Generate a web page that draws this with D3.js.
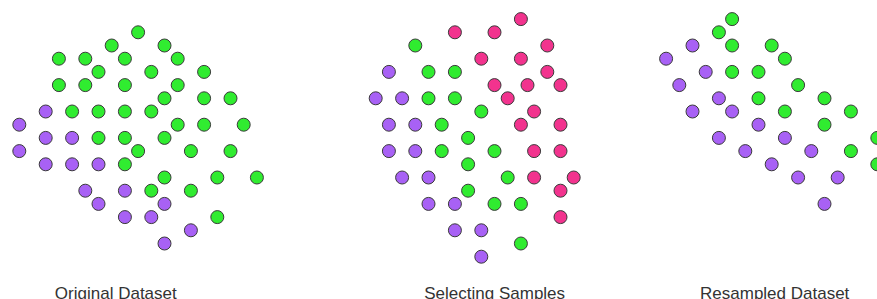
<html lang="en">
	<head>
		<meta charset="utf-8">
		<title>Undersampling</title>
		<script src="https://d3js.org/d3.v7.min.js"></script>
		<style type="text/css">
			body {
				margin: 0;
				background-color: white;
			}
		</style>
	</head>
	<body>
		<script type="text/javascript">

			//Points on a grid, [column, row]
			//Original dataset
			var originalMajority = [
				[9,0], [7,1], [11,1], [3,2], [5,2], [8,2], [12,2], [6,3], [10,3], [14,3],
				[3,4], [5,4], [8,4], [12,4], [11,5], [14,5], [16,5], [4,6], [6,6], [8,6],
				[10,6], [12,7], [14,7], [17,7], [6,8], [8,8], [11,8], [9,9], [13,9], [16,9],
				[8,10], [11,11], [15,11], [18,11], [10,12], [13,12], [15,14]
			];
			var originalMinority = [
				[2,6], [0,7], [2,8], [4,8], [0,9], [2,10], [4,10], [6,10], [5,12], [8,12],
				[6,13], [11,13], [8,14], [10,14], [13,15], [11,16]
			];

			//Selecting samples
			var selectMajority = [
				[30,1], [31,3], [33,3], [31,5], [33,5], [35,6], [32,7], [34,8], [32,9], [36,9],
				[34,10], [37,11], [34,12], [36,13], [38,13], [38,16]
			];
			var selectMinority = [
				[28,3], [27,5], [29,5], [28,7], [30,7], [28,9], [30,9], [29,11], [31,11], [31,13],
				[33,13], [33,15], [35,15], [35,17]
			];
			var selectChosen = [
				[38,-1], [33,0], [36,0], [40,1], [35,2], [38,2], [40,3], [36,4], [38.5,4], [41,4],
				[37,5], [39,6], [38,7], [41,7], [39,9], [41,9], [39,11], [42,11], [41,12], [41,14]
			];

			//Resampled dataset
			var resampledMajority = [
				[54,-1], [53,0], [54,1], [57,1], [58,2], [54,3], [56,3], [59,4], [56,5], [61,5],
				[58,6], [63,6], [61,7], [65,8], [63,9], [65,10]
			];
			var resampledMinority = [
				[51,1], [49,2], [52,3], [50,4], [53,5], [51,6], [54,6], [56,7], [53,8], [58,8],
				[55,9], [60,9], [57,10], [59,11], [62,11], [61,13]
			];

			var titles = ["Original Dataset", "Selecting Samples", "Resampled Dataset"];
			var titleX = [115.8, 494.7, 774.7];

			//Width and height
			var w = 877;
			var h = 299;

			var green = "#30ec30";
			var purple = "#a861f5";
			var pink = "#f2338e";

			//Create scale functions
			var xScale = d3.scaleLinear()
					.domain([0, 65])
					.range([19.3, 877.3]);

			var yScale = d3.scaleLinear()
					.domain([-1, 17])
					.range([19.1, 256.7]);

			//Create SVG element
			var svg = d3.select("body")
						.append("svg")
						.attr("width", w)
						.attr("height", h);

			function drawPoints(data, color) {
				svg.append("g")
				   .selectAll("circle")
				   .data(data)
				   .enter()
				   .append("circle")
				   .attr("cx", function(d) { return xScale(d[0]); })
				   .attr("cy", function(d) { return yScale(d[1]); })
				   .attr("r", 6.5)
				   .attr("fill", color)
				   .attr("stroke", "#3a3a3a")
				   .attr("stroke-width", 1);
			}

			drawPoints(originalMajority, green);
			drawPoints(originalMinority, purple);
			drawPoints(selectMajority, green);
			drawPoints(selectMinority, purple);
			drawPoints(selectChosen, pink);
			drawPoints(resampledMajority, green);
			drawPoints(resampledMinority, purple);

			//Panel titles
			svg.selectAll("text.title")
			   .data(titles)
			   .enter()
			   .append("text")
			   .attr("class", "title")
			   .text(function(d) { return d; })
			   .attr("x", function(d, i) { return titleX[i]; })
			   .attr("y", 299)
			   .attr("text-anchor", "middle")
			   .attr("font-family", "Liberation Sans, Arial, sans-serif")
			   .attr("font-size", "17px")
			   .attr("fill", "#333");

		</script>
	</body>
</html>
